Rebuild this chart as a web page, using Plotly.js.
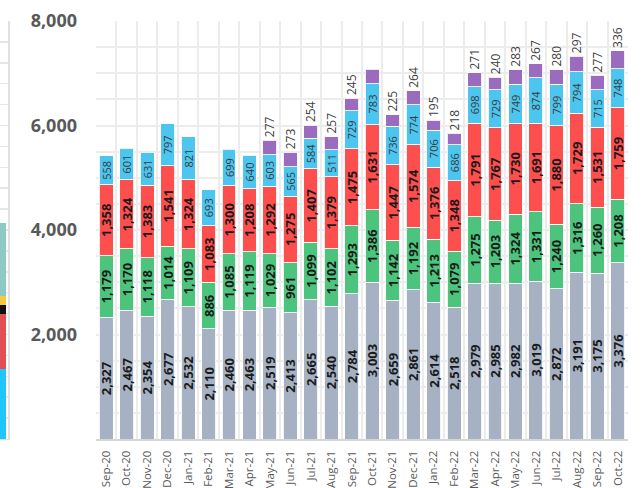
<!DOCTYPE html>
<html>
<head>
<meta charset="utf-8">
<script src="https://cdn.plot.ly/plotly-3.0.1.min.js"></script>
<style>html,body{margin:0;padding:0;background:#fff;}#chart{width:643px;height:488px;}</style>
</head>
<body>
<div id="chart"></div>
<script>
const months = ['Sep-20','Oct-20','Nov-20','Dec-20','Jan-21','Feb-21','Mar-21','Apr-21','May-21','Jun-21','Jul-21','Aug-21','Sep-21','Oct-21','Nov-21','Dec-21','Jan-22','Feb-22','Mar-22','Apr-22','May-22','Jun-22','Jul-22','Aug-22','Sep-22','Oct-22'];
const seriesBase = [2327,2467,2354,2677,2532,2110,2460,2463,2519,2413,2665,2540,2784,3003,2659,2861,2614,2518,2979,2985,2982,3019,2872,3191,3175,3376];
const seriesGreen = [1179,1170,1118,1014,1109,886,1085,1119,1029,961,1099,1102,1293,1386,1142,1192,1213,1079,1275,1203,1324,1331,1240,1316,1260,1208];
const seriesRed = [1358,1324,1383,1541,1324,1083,1300,1208,1292,1275,1407,1379,1475,1631,1447,1574,1376,1348,1791,1767,1730,1691,1880,1729,1531,1759];
const seriesBlue = [558,601,631,797,821,693,699,640,603,565,584,511,729,783,736,774,706,686,698,729,749,874,799,794,715,748];
const seriesPurple = [null,null,null,null,null,null,null,null,277,273,254,257,245,270,225,264,195,218,271,240,283,267,280,297,277,336];
const purpleHiddenLabel = ['Oct-21'];
const purpleLabels = seriesPurple.map((v,i)=> (v==null || purpleHiddenLabel.includes(months[i])) ? '' : v.toLocaleString('en-US'));
const yTickVals = [2000,4000,6000,8000];

// fragment of the neighbouring chart visible at the left edge
const fragCategory = ['Oct-22'];
const fragCyan = [1340];
const fragRed = [1050];
const fragBlack = [170];
const fragYellow = [170];
const fragTeal = [1400];

const FONT = 'Open Sans, DejaVu Sans, sans-serif';
const outline = {color:'rgba(255,255,255,0.85)', width:1};

function inside(name, y, color, size, weight, tcolor){
  return {type:'bar', name, x:months, y, marker:{color, line:outline},
    texttemplate:'%{y:,.0f}', textposition:'inside', insidetextanchor:'middle',
    textangle:-90, constraintext:'none',
    textfont:{family:FONT, size, weight, color:tcolor}, hoverinfo:'skip', xaxis:'x', yaxis:'y'};
}
const traces = [
  inside('Base', seriesBase, '#a6b2c4', 13, 'bold', '#1a1a1a'),
  inside('Green', seriesGreen, '#4dc47d', 13, 'bold', '#1a1a1a'),
  inside('Red', seriesRed, '#fe4f4f', 13, 'bold', '#1a1a1a'),
  inside('Blue', seriesBlue, '#4cc5ef', 11, 'normal', '#3a3a3a'),
  {type:'bar', name:'Purple', x:months, y:seriesPurple, marker:{color:'#9b6bbf', line:outline},
   text:purpleLabels, textposition:'outside', textangle:-90, constraintext:'none', cliponaxis:false,
   textfont:{family:FONT, size:12, color:'#404040'}, hoverinfo:'skip', xaxis:'x', yaxis:'y'}
];
function frag(y, color){
  return {type:'bar', x:fragCategory, y, marker:{color}, xaxis:'x2', yaxis:'y2', hoverinfo:'skip', textposition:'none'};
}
traces.push(frag(fragCyan,'#1fc6fb'), frag(fragRed,'#e14f50'), frag(fragBlack,'#111111'), frag(fragYellow,'#f9c93b'), frag(fragTeal,'#8ecac4'));

const grid = '#ececec';
const layout = {
  width:643, height:488,
  margin:{l:0, r:0, t:21, b:49},
  paper_bgcolor:'#fff', plot_bgcolor:'#fff',
  barmode:'stack', bargap:0.32, showlegend:false,
  font:{family:FONT, color:'#595959'},
  xaxis:{domain:[96/643, 628/643], type:'category', tickson:'boundaries', showgrid:true, gridcolor:grid, gridwidth:2,
    ticks:'', tickangle:-90, ticklabelstandoff:5, tickfont:{family:FONT, size:11.5, color:'#595959'},
    showline:true, linecolor:'#d6d6d6', linewidth:2, anchor:'y'},
  yaxis:{domain:[0,1], range:[0,8000], tickmode:'array', tickvals:yTickVals, tickformat:',', showgrid:true, gridcolor:grid, gridwidth:2,
    zeroline:false, ticks:'', ticklabelstandoff:18, tickfont:{family:FONT, size:18, weight:'bold', color:'#595959'},
    minor:{tickmode:'linear', dtick:500, tick0:0, showgrid:true, gridcolor:grid, gridwidth:2}, anchor:'x'},
  xaxis2:{domain:[0, 8/643], type:'category', range:[0.043,0.433], showticklabels:false, showgrid:false, ticks:'',
    showline:true, linecolor:'#dedede', linewidth:1, anchor:'y2'},
  yaxis2:{domain:[0,1], range:[0,8000], dtick:400, showticklabels:false, showgrid:true, gridcolor:'#e6e6e6', gridwidth:1.5,
    zeroline:false, showline:true, side:'right', linecolor:'#e0e0e0', linewidth:2, ticks:'', anchor:'x2'}
};
Plotly.newPlot('chart', traces, layout, {displayModeBar:false, staticPlot:true});
</script>
</body>
</html>
